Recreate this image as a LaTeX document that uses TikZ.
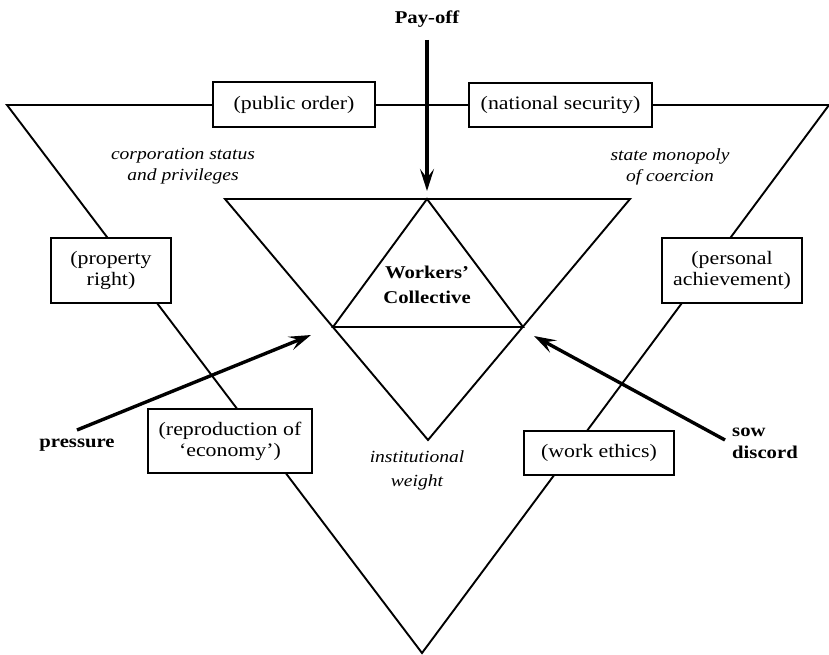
\documentclass[tikz,border=0pt]{standalone}
\usepackage{fontspec}
\setmainfont{Liberation Serif}[FakeStretch=1.15]
\usetikzlibrary{arrows.meta}
\begin{document}
\begin{tikzpicture}[x=1pt,y=-1pt,
  every node/.style={font=\fontsize{19}{21}\selectfont, inner sep=0pt},
  tri/.style={line width=1.9pt, line join=miter},
  lab/.style={draw, line width=1.6pt, fill=white, align=center, inner sep=0pt},
  ital/.style={font=\fontsize{17}{21}\selectfont\itshape, align=center},
  bld/.style={font=\fontsize{18}{22}\selectfont\bfseries, align=center},
  force/.style={line width=3.4pt, -{Stealth[length=22pt,width=14pt,inset=9pt]}}
]
\useasboundingbox (0,0) rectangle (829,655);
% outer triangle
\coordinate (oL) at (7,105);
\coordinate (oR) at (829,105);
\coordinate (oB) at (422,653);
\draw[tri] (oL) -- (oR) -- (oB) -- cycle;
% inner inverted triangle
\coordinate (iL) at (225,199);
\coordinate (iR) at (630,199);
\coordinate (iB) at (428,440);
\draw[tri] (iL) -- (iR) -- (iB) -- cycle;
% upright triangle
\coordinate (uT) at (427,199);
\coordinate (uL) at (333,327);
\coordinate (uR) at (523,327);
\draw[tri] (uT) -- (uL) -- (uR) -- cycle;
% boxes
\node[lab, minimum width=162pt, minimum height=45pt] (pub) at (294,104.5) {(public order)};
\node[lab, minimum width=183pt, minimum height=44pt] (nat) at (560.5,105) {(national security)};
\node[lab, minimum width=120pt, minimum height=65pt] (prop) at (111,270.5) {(property\\right)};
\node[lab, minimum width=140pt, minimum height=65pt] (pers) at (732,270.5) {(personal\\achievement)};
\node[lab, minimum width=164pt, minimum height=64pt] (repr) at (230,441) {(reproduction of\\‘economy’)};
\node[lab, minimum width=150pt, minimum height=44pt] (work) at (599,453) {(work ethics)};
% texts
\node[bld] (pay) at (427,19) {Pay-off};
\node[ital] (corp) at (183,166) {corporation status\\and privileges};
\node[ital] (state) at (670,167) {state monopoly\\of coercion};
\node[bld, font=\fontsize{18}{25}\selectfont\bfseries] (wc) at (427,285) {Workers’\\Collective};
\node[ital, font=\fontsize{17}{24}\selectfont\itshape] (inst) at (417,470) {institutional\\weight};
\node[bld] (press) at (77,445) {pressure};
\node[bld, align=left, anchor=west] (sow) at (732,443) {sow\\discord};
% arrows
\coordinate (payS) at (427,40);
\coordinate (payE) at (427,191);
\draw[force] (payS) -- (payE);
\coordinate (prS) at (77,430);
\coordinate (prE) at (311,335);
\draw[force] (prS) -- (prE);
\coordinate (swS) at (725,440);
\coordinate (swE) at (534,336);
\draw[force] (swS) -- (swE);
\end{tikzpicture}
\end{document}
